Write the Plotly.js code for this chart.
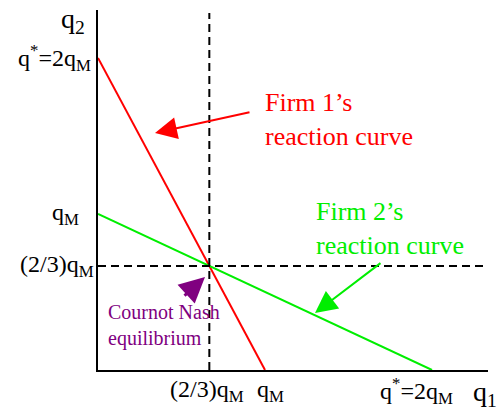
<!DOCTYPE html>
<html>
<head>
<meta charset="utf-8">
<script src="https://cdn.plot.ly/plotly-3.0.1.min.js"></script>
<style>html,body{margin:0;padding:0;background:#fff;}#chart{width:500px;height:410px;}</style>
</head>
<body>
<div id="chart"></div>
<script>
// Data (in units of q_M)
const firm1X = [0, 1];      // Firm 1's reaction curve
const firm1Y = [2, 0];
const firm2X = [0, 2];      // Firm 2's reaction curve
const firm2Y = [1, 0];
const nashX = 2/3;
const nashY = 2/3;
const xTickVals = [2/3, 1, 2];
const xTickText = ['(2/3)q<sub>M</sub>', 'q<sub>M</sub>', 'q<sup>*</sup>=2q<sub>M</sub>'];
const yTickVals = [2, 1, 2/3];
const yTickText = ['q<sup>*</sup>=2q<sub>M</sub>', 'q<sub>M</sub>', '(2/3)q<sub>M</sub>'];
const xAxisLabel = 'q<sub>1</sub>';
const yAxisLabel = 'q<sub>2</sub>';
const firm1Label = 'Firm 1’s<br>reaction curve';
const firm2Label = 'Firm 2’s<br>reaction curve';
const nashLabel = 'Cournot Nash<br>equilibrium';

const X0 = 98, Y0 = 370, UX = 167, UY = 156, XR = 488, YT = 10;
const px2x = p => (p - X0) / UX;
const px2y = p => (Y0 - p) / UY;
const ppx = p => (p - X0) / (XR - X0);
const ppy = p => (Y0 - p) / (Y0 - YT);
const FONT = 'Liberation Serif';

const xMax = px2x(XR), yMax = px2y(YT);

const traces = [
  {x: firm1X, y: firm1Y, mode: 'lines', line: {color: '#ff0000', width: 2}, hoverinfo: 'skip'},
  {x: firm2X, y: firm2Y, mode: 'lines', line: {color: '#00ee00', width: 2}, hoverinfo: 'skip'},
  {x: [nashX, nashX], y: [0, px2y(13)], mode: 'lines', line: {color: '#000', width: 2, dash: '8px,5px'}, hoverinfo: 'skip'},
  {x: [0, xMax], y: [nashY, nashY], mode: 'lines', line: {color: '#000', width: 2, dash: '8px,5px'}, hoverinfo: 'skip'}
];

const yRight = [93, 81, 96];
const xCenters = [207, 270, 416];

const annotations = [];
yTickVals.forEach((v, i) => annotations.push({
  x: ppx(yRight[i]), y: v, xref: 'paper', yref: 'y', text: yTickText[i], showarrow: false,
  xanchor: 'right', yanchor: 'middle', font: {family: FONT, size: 24, color: '#000'}
}));
xTickVals.forEach((v, i) => annotations.push({
  x: px2x(xCenters[i]), y: ppy(391), xref: 'x', yref: 'paper', text: xTickText[i], showarrow: false,
  xanchor: 'center', yanchor: 'middle', font: {family: FONT, size: 24, color: '#000'}
}));
annotations.push({x: ppx(485), y: ppy(393), xref: 'paper', yref: 'paper', text: xAxisLabel, showarrow: false,
  xanchor: 'center', yanchor: 'middle', font: {family: FONT, size: 28, color: '#000'}});
annotations.push({x: ppx(73), y: ppy(20), xref: 'paper', yref: 'paper', text: yAxisLabel, showarrow: false,
  xanchor: 'center', yanchor: 'middle', font: {family: FONT, size: 28, color: '#000'}});
annotations.push({x: px2x(263), y: px2y(119), xref: 'x', yref: 'y', text: firm1Label, showarrow: false,
  xanchor: 'left', yanchor: 'middle', align: 'left', font: {family: FONT, size: 26, color: '#ff0000'}});
annotations.push({x: px2x(314), y: px2y(228), xref: 'x', yref: 'y', text: firm2Label, showarrow: false,
  xanchor: 'left', yanchor: 'middle', align: 'left', font: {family: FONT, size: 26, color: '#00ee00'}});
annotations.push({x: px2x(106), y: px2y(325), xref: 'x', yref: 'y', text: nashLabel, showarrow: false,
  xanchor: 'left', yanchor: 'middle', align: 'left', font: {family: FONT, size: 20, color: '#800080'}});
// arrows
annotations.push({x: px2x(155), y: px2y(133), ax: px2x(251), ay: px2y(112), xref: 'x', yref: 'y', axref: 'x', ayref: 'y',
  text: '', showarrow: true, arrowhead: 2, arrowsize: 2.2, arrowwidth: 2, arrowcolor: '#ff0000'});
annotations.push({x: px2x(315), y: px2y(313), ax: px2x(382), ay: px2y(262), xref: 'x', yref: 'y', axref: 'x', ayref: 'y',
  text: '', showarrow: true, arrowhead: 2, arrowsize: 2.2, arrowwidth: 2, arrowcolor: '#00ee00'});
annotations.push({x: px2x(205), y: px2y(277), ax: px2x(183), ay: px2y(297), xref: 'x', yref: 'y', axref: 'x', ayref: 'y',
  text: '', showarrow: true, arrowhead: 2, arrowsize: 1.7, arrowwidth: 3, arrowcolor: '#800080'});

const layout = {
  width: 500, height: 410,
  margin: {l: X0, r: 500 - XR, t: YT, b: 410 - Y0},
  paper_bgcolor: '#fff', plot_bgcolor: '#fff',
  showlegend: false,
  font: {family: FONT},
  xaxis: {range: [0, xMax], showgrid: false, zeroline: false, showticklabels: false, ticks: '',
          showline: true, linecolor: '#000', linewidth: 2, fixedrange: true},
  yaxis: {range: [0, yMax], showgrid: false, zeroline: false, showticklabels: false, ticks: '',
          showline: true, linecolor: '#000', linewidth: 2, fixedrange: true},
  annotations: annotations
};

Plotly.newPlot('chart', traces, layout, {displayModeBar: false, staticPlot: true});
</script>
</body>
</html>
